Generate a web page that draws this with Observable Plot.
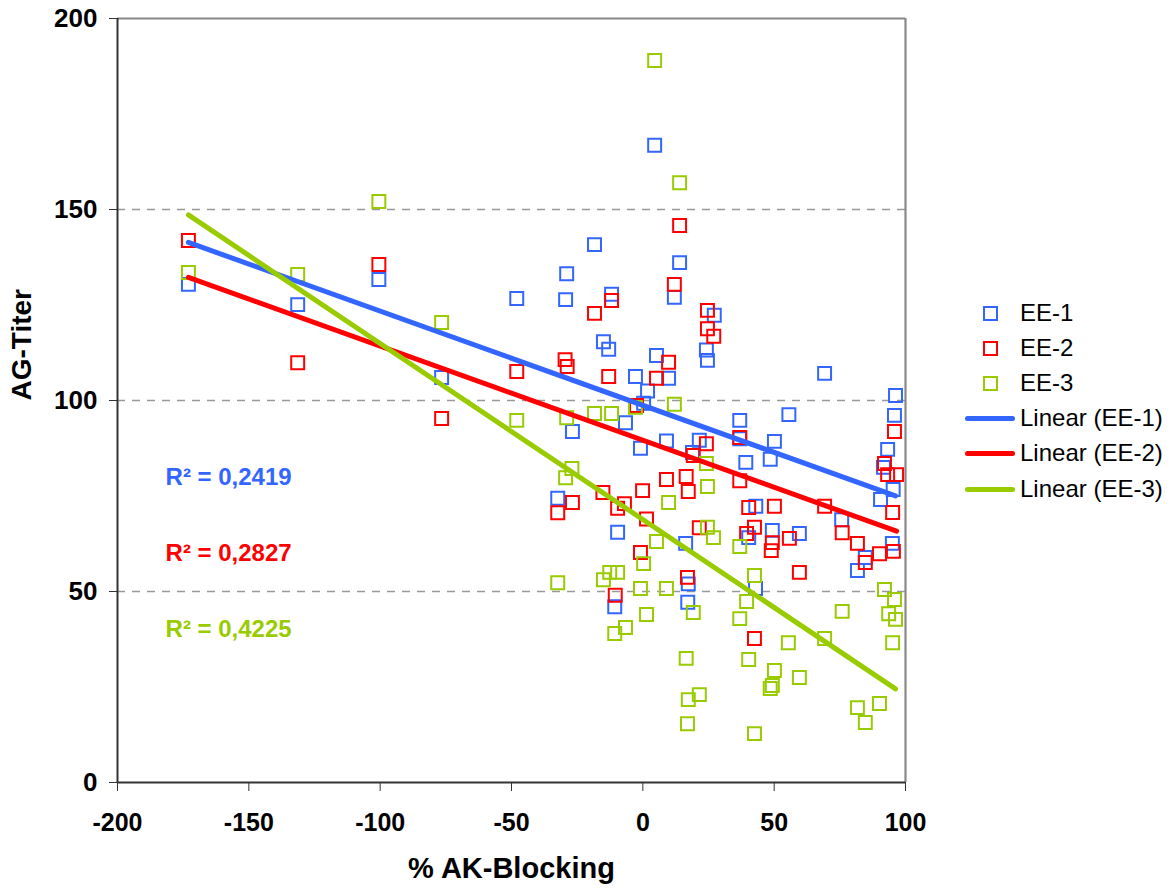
<!DOCTYPE html>
<html>
<head>
<meta charset="utf-8">
<script src="https://cdn.jsdelivr.net/npm/d3@7"></script>
<script src="https://cdn.jsdelivr.net/npm/@observablehq/plot@0.6"></script>
<style>
  html, body { margin: 0; padding: 0; background: #fff; }
  #wrap { position: relative; width: 1172px; height: 890px; font-family: "Liberation Sans", Arial, sans-serif; }
  .leg { position: absolute; left: 0; top: 0; font-size: 24px; color: #000; }
  .row { position: absolute; height: 30px; display: flex; align-items: center; white-space: nowrap; }
  .sq { position: absolute; width: 11px; height: 11px; border: 2px solid; }
  .ln { position: absolute; width: 50px; height: 5px; border-radius: 3px; }
</style>
</head>
<body>
<div id="wrap"></div>
<script>
// ---- data ----
const seriesNames = ["EE-1", "EE-2", "EE-3"];
const seriesColors = ["#3366FF", "#FF0000", "#99CC00"];
const rSquared = ["0,2419", "0,2827", "0,4225"];
const xTicks = [-200, -150, -100, -50, 0, 50, 100];
const yTicks = [0, 50, 100, 150, 200];

const ee1 = [[-173,130.4],[-131.4,125.1],[-100.5,131.7],[-76.6,106],[-48,126.7],[-29.4,126.4],[-29,133.2],[-26.8,91.9],[-32.4,74.4],[-18.4,140.8],[-15,115.4],[-13,113.4],[-11.9,127.8],[-9.6,65.5],[-10.7,46],[-6.6,94.2],[-2.8,106.3],[-0.9,87.5],[0.3,99.3],[1.8,102.5],[4.5,166.8],[5.2,111.8],[9,89.4],[9.8,105.8],[12,127],[14,136.1],[16.3,62.6],[17.1,47.2],[17.3,52],[21.5,89.6],[24.2,113.2],[24.6,110.5],[27.2,122.3],[18.9,86.4],[36.9,94.8],[36.9,90],[39.2,83.8],[40.3,64.1],[43,72.3],[42.9,50.8],[50.1,89.3],[48.5,84.6],[49.3,66],[55.6,96.3],[59.6,65.2],[69.2,107.1],[75.7,68.8],[81.7,55.5],[84.7,58.9],[90.5,74.1],[93.2,87.2],[96.2,101.3],[95.8,96.1],[95.3,76.7],[95,62.6],[91.6,82.5]];

const ee2 = [[-173,141.9],[-131.4,109.9],[-100.5,135.6],[-76.6,95.3],[-48,107.6],[-29.6,110.7],[-28.8,108.9],[-26.8,73.3],[-32.4,70.6],[-18.4,122.8],[-15.2,75.9],[-13,106.3],[-11.9,126.2],[-10.5,49],[-9.6,71.8],[-7,73],[-0.9,60.2],[1.4,69],[-0.1,76.4],[-2.4,98.7],[5.2,105.8],[9.8,110],[12,130.4],[14,145.8],[9,79.3],[16.5,80.1],[17.3,76.2],[17,53.7],[21.5,66.7],[19.2,85.6],[24.2,88.7],[24.6,123.6],[24.6,118.8],[27,116.8],[36.9,90.3],[36.9,79],[40.3,72],[39.5,65.2],[42.5,66.8],[42.5,37.7],[49.3,62.8],[48.9,60.7],[50.1,72.3],[55.8,63.9],[59.6,55],[69.2,72.3],[75.9,65.4],[81.7,62.6],[84.7,57.6],[90.1,59.9],[95.4,60.5],[95.1,70.7],[92,83.5],[93.2,80.6],[96.6,80.6],[95.8,91.9]];

const ee3 = [[-173,133.5],[-131.4,133],[-100.5,152.1],[-76.6,120.4],[-48,94.8],[-32.4,52.3],[-29.4,79.8],[-27,82.2],[-29,95.5],[-18.4,96.6],[-11.9,96.6],[-2.8,98.2],[12,99],[4.5,189],[14,157],[24.2,83.5],[24.6,77.5],[9.8,73.3],[-15,53.1],[-12.6,55],[-9.6,55],[0.3,57.3],[5.2,63.1],[-0.9,50.8],[9,50.8],[1.4,44],[-6.6,40.6],[-10.7,39],[19.2,44.5],[16.5,32.5],[17.3,21.7],[21.5,23],[17,15.4],[24.6,66.8],[26.9,64.1],[36.9,61.8],[42.5,54.2],[39.5,47.4],[36.9,42.9],[40.3,32.2],[55.4,36.6],[50.1,29.3],[49.3,25.4],[48.5,24.6],[59.6,27.5],[42.5,12.8],[69.2,37.7],[75.9,44.8],[81.7,19.6],[84.7,15.7],[90.1,20.7],[92,50.5],[95.8,47.9],[93.6,44.2],[96.2,42.7],[95.1,36.6]];

// ---- build table ----
const seriesData = [ee1, ee2, ee3];
const points = seriesData.flatMap((arr, i) => arr.map(([x, y]) => ({series: seriesNames[i], x, y})));
const r2Labels = seriesNames.map((s, i) => ({series: s, label: "R² = " + rSquared[i], y: [80, 60, 40][i]}));

const font = "'Liberation Sans', Arial, sans-serif";
const colorOf = s => seriesColors[seriesNames.indexOf(s)];

const marks = [
  Plot.gridY([50, 100, 150], {stroke: "#999", strokeOpacity: 1, strokeWidth: 1.3, strokeDasharray: "8,7"}),
  Plot.ruleY([200], {stroke: "#888", strokeWidth: 2.2}),
  Plot.ruleX([100], {stroke: "#888", strokeWidth: 2.2}),
  Plot.ruleX([-200], {stroke: "#333", strokeWidth: 2}),
  Plot.ruleY([0], {stroke: "#333", strokeWidth: 2}),
  Plot.axisY({ticks: yTicks, tickSize: 8, tickPadding: 12, fontSize: 26, fontWeight: "bold", label: null, tickFormat: d => String(d), stroke: "#333"}),
  Plot.axisX({ticks: xTicks, tickSize: 9, tickPadding: 22, fontSize: 25, fontWeight: "bold", label: null, tickFormat: d => String(d), stroke: "#333"}),
];
seriesNames.forEach((s, i) => {
  marks.push(Plot.dot(points.filter(d => d.series === s), {x: "x", y: "y", symbol: "square", r: 7.3, stroke: seriesColors[i], strokeWidth: 2, fill: "none"}));
});
seriesNames.forEach((s, i) => {
  marks.push(Plot.linearRegressionY(points.filter(d => d.series === s), {x: "x", y: "y", stroke: seriesColors[i], strokeWidth: 5, ci: 0, strokeLinecap: "round"}));
});
marks.push(Plot.text(r2Labels, {x: () => -181.7, y: "y", text: "label", fill: d => colorOf(d.series), textAnchor: "start", fontSize: 24, fontWeight: "bold"}));
marks.push(Plot.text(["AG-Titer"], {frameAnchor: "left", dx: -95, rotate: -90, fontSize: 28, fontWeight: "bold", text: d => d}));
marks.push(Plot.text(["% AK-Blocking"], {frameAnchor: "bottom", dy: 95, fontSize: 29, fontWeight: "bold", text: d => d}));

const chart = Plot.plot({
  width: 1172,
  height: 890,
  marginLeft: 117,
  marginRight: 267,
  marginTop: 18,
  marginBottom: 108,
  x: {domain: [-200, 100]},
  y: {domain: [0, 200]},
  color: {domain: seriesNames, range: seriesColors},
  style: {fontFamily: font, background: "#fff", color: "#000", overflow: "visible"},
  marks
});
const wrap = document.getElementById("wrap");
wrap.appendChild(chart);

// ---- legend ----
const leg = document.createElement("div");
leg.className = "leg";
const rowsY = [313, 348, 383, 418, 453, 489];
seriesNames.forEach((s, i) => {
  const sq = document.createElement("div");
  sq.className = "sq";
  sq.style.borderColor = seriesColors[i];
  sq.style.left = (990 - 7.5) + "px";
  sq.style.top = (rowsY[i] - 7.5) + "px";
  leg.appendChild(sq);
  const t = document.createElement("div");
  t.className = "row";
  t.style.left = "1020px";
  t.style.top = (rowsY[i] - 15) + "px";
  t.textContent = s;
  leg.appendChild(t);
});
seriesNames.forEach((s, i) => {
  const y = rowsY[3 + i];
  const ln = document.createElement("div");
  ln.className = "ln";
  ln.style.background = seriesColors[i];
  ln.style.left = "965px";
  ln.style.top = (y - 2.5) + "px";
  leg.appendChild(ln);
  const t = document.createElement("div");
  t.className = "row";
  t.style.left = "1020px";
  t.style.top = (y - 15) + "px";
  t.textContent = "Linear (" + s + ")";
  leg.appendChild(t);
});
wrap.appendChild(leg);
</script>
</body>
</html>
